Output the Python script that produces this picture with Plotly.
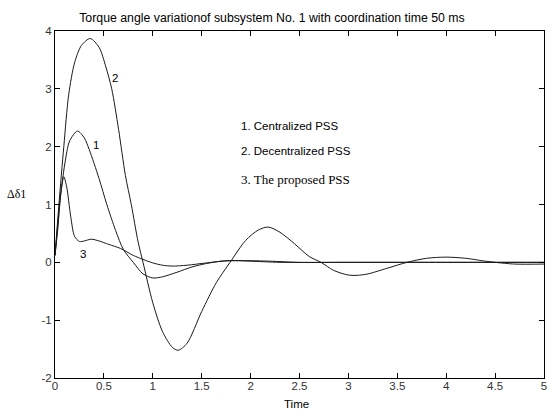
import plotly.graph_objects as go

# Series data (time in s, torque angle deviation)
t_central = [0, 0.02, 0.05, 0.1, 0.15, 0.23, 0.3, 0.35, 0.45, 0.53, 0.62, 0.7, 0.8, 0.9, 1.0, 1.1, 1.25, 1.4,
             1.55, 1.7, 1.9, 2.2, 2.5, 3.0, 4.0, 5.0]
y_central = [0.12, 0.5, 1.05, 1.7, 2.1, 2.27, 2.15, 1.95, 1.45, 1.0, 0.55, 0.22, 0.0, -0.2, -0.27, -0.25, -0.17, -0.08,
             -0.02, 0.02, 0.03, 0.02, 0.0, 0.0, 0.0, 0.0]

t_decentral = [0, 0.04, 0.09, 0.14, 0.2, 0.27, 0.36, 0.45, 0.52, 0.58, 0.65, 0.72, 0.78, 0.85, 0.9, 1.0, 1.1, 1.2,
               1.26, 1.35, 1.5, 1.65, 1.79, 1.95, 2.08, 2.18, 2.3, 2.45, 2.6, 2.72, 2.85, 3.0, 3.09, 3.2, 3.4,
               3.6, 3.8, 4.0, 4.2, 4.4, 4.5, 4.7, 5.0]
y_decentral = [0.12, 1.0, 2.0, 2.9, 3.45, 3.75, 3.87, 3.72, 3.38, 3.0, 2.3, 1.5, 1.0, 0.35, 0.0, -0.7, -1.2, -1.47,
               -1.52, -1.4, -0.85, -0.35, 0.0, 0.38, 0.56, 0.61, 0.52, 0.32, 0.1, 0.0, -0.14, -0.22, -0.225, -0.2,
               -0.1, 0.0, 0.07, 0.09, 0.07, 0.02, 0.0, -0.03, -0.03]

t_proposed = [0, 0.03, 0.06, 0.09, 0.12, 0.16, 0.2, 0.25, 0.3, 0.37, 0.45, 0.55, 0.67, 0.8, 0.9, 1.0, 1.1, 1.2,
              1.35, 1.55, 1.78, 2.0, 2.3, 3.0, 4.0, 5.0]
y_proposed = [0.12, 0.6, 1.2, 1.48, 1.3, 0.8, 0.45, 0.36, 0.37, 0.4, 0.37, 0.31, 0.24, 0.12, 0.05, -0.01, -0.05,
              -0.065, -0.05, -0.01, 0.03, 0.02, 0.0, 0.0, 0.0, 0.0]

x_ticks = [0, 0.5, 1, 1.5, 2, 2.5, 3, 3.5, 4, 4.5, 5]
x_tick_labels = ["0", "0.5", "1", "1.5", "2", "2.5", "3", "3.5", "4", "4.5", "5"]
y_ticks = [-2, -1, 0, 1, 2, 3, 4]
y_tick_labels = ["-2", "-1", "0", "1", "2", "3", "4"]

SANS = "Arial, Liberation Sans, sans-serif"
SERIF = "Times New Roman, Liberation Serif, serif"
LINE = dict(color="#1a1a1a", width=1, shape="spline", smoothing=0.8)

fig = go.Figure()
for tx, yy, name in [(t_central, y_central, "Centralized PSS"),
                     (t_decentral, y_decentral, "Decentralized PSS"),
                     (t_proposed, y_proposed, "The proposed PSS")]:
    fig.add_trace(go.Scatter(x=tx, y=yy, mode="lines", line=LINE, name=name,
                             showlegend=False, hoverinfo="skip"))

axis_common = dict(showgrid=False, zeroline=False, showline=True, linecolor="black", linewidth=1,
                   mirror="ticks", ticks="inside", ticklen=5, tickcolor="black",
                   ticklabeloverflow="allow",
                   tickfont=dict(family=SANS, size=11.5, color="#333"))

fig.update_xaxes(range=[0, 5], tickvals=x_ticks, ticktext=x_tick_labels, ticklabelstandoff=-3, **axis_common)
fig.update_yaxes(range=[-2, 4], tickvals=y_ticks, ticktext=y_tick_labels, **axis_common)

annotations = [
    dict(x=0.615, y=3.19, text="2", font=dict(family=SANS, size=11.5, color="black")),
    dict(x=0.42, y=2.03, text="1", font=dict(family=SANS, size=11.5, color="black")),
    dict(x=0.287, y=0.15, text="3", font=dict(family=SANS, size=11.5, color="black")),
    dict(x=1.885, y=2.35, text="1. Centralized PSS", xanchor="left", font=dict(family=SANS, size=11.5, color="black")),
    dict(x=1.885, y=1.93, text="2. Decentralized PSS", xanchor="left", font=dict(family=SANS, size=11.5, color="black")),
    dict(x=1.885, y=1.43, text="3. The proposed PSS", xanchor="left", font=dict(family=SERIF, size=13, color="black")),
]
for a in annotations:
    a.setdefault("xanchor", "center")
    a.update(xref="x", yref="y", showarrow=False, yanchor="middle")

# Y label and X label
annotations.append(dict(xref="paper", yref="paper", x=-0.055, y=0.53, text="Δδ1", showarrow=False,
                        xanchor="right", yanchor="middle", font=dict(family=SERIF, size=12, color="black")))
annotations.append(dict(xref="paper", yref="paper", x=0.494, y=-0.076, text="Time", showarrow=False,
                        xanchor="center", yanchor="middle", font=dict(family=SANS, size=11.5, color="black")))

fig.update_layout(
    width=550, height=412,
    margin=dict(l=55, r=3, t=31, b=34),
    paper_bgcolor="white", plot_bgcolor="white",
    title=dict(text="Torque angle variationof subsystem No. 1 with coordination time 50 ms",
               x=0.4945, xanchor="center", y=1 - 18 / 412, yanchor="middle",
               font=dict(family=SANS, size=12.3, color="black")),
    annotations=annotations,
)

fig.write_html("out.html", config={"displayModeBar": False},
               post_script="document.body.style.margin='0';document.body.style.overflow='hidden';")
